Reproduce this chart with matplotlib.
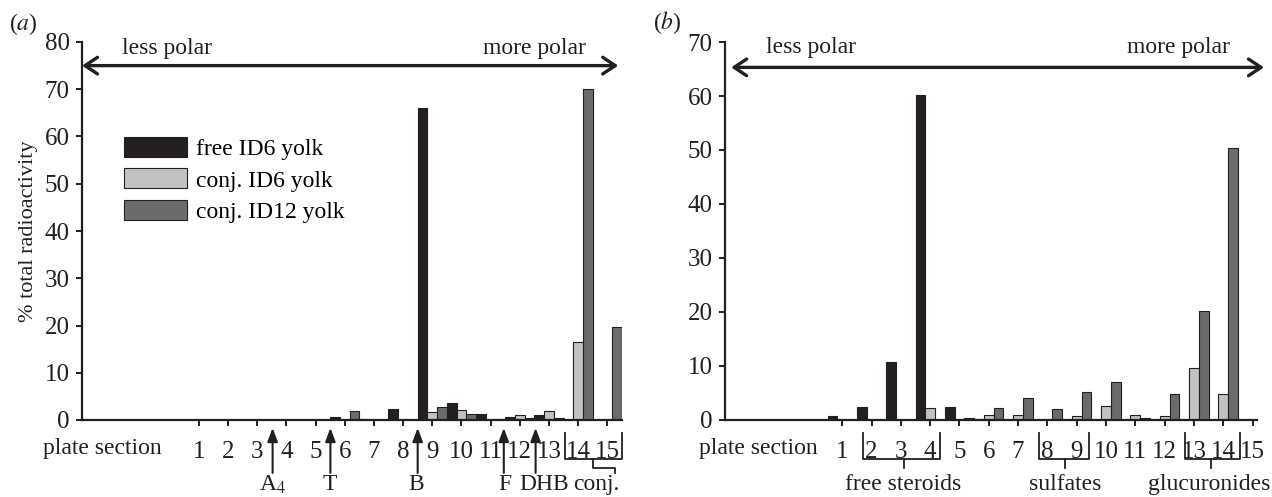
import matplotlib.pyplot as plt
import matplotlib.transforms as mtransforms
import numpy as np

plt.rcParams['font.family'] = ['Liberation Serif', 'DejaVu Serif']
plt.rcParams['mathtext.fontset'] = 'stix'

# plate sections 1..15
sections = np.arange(1, 16)

# panel (a): % total radioactivity
free_id6_a = [0, 0, 0, 0, 0, 0.7, 0.2, 2.4, 66.1, 3.7, 1.3, 0.6, 1.1, 0, 0]
conj_id6_a = [0, 0, 0, 0, 0, 0, 0, 0, 1.6, 2.1, 0, 1.0, 1.9, 16.6, 0]
conj_id12_a = [0, 0, 0, 0, 0, 1.8, 0, 0, 2.8, 1.3, 0.3, 0.5, 0.5, 70.0, 19.6]

# panel (b)
free_id6_b = [0.7, 2.4, 10.7, 60.2, 2.4, 0.2, 0, 0, 0, 0, 0, 0, 0, 0, 0]
conj_id6_b = [0, 0, 0, 2.3, 0, 0.9, 0.9, 0, 0.7, 2.6, 0.9, 0.7, 9.6, 4.8, 0]
conj_id12_b = [0, 0, 0, 0, 0.4, 2.3, 4.1, 2.0, 5.2, 7.1, 0.3, 4.8, 20.1, 50.4, 0]

series_names = ['free ID6 yolk', 'conj. ID6 yolk', 'conj. ID12 yolk']
colors = ['#231f20', '#c2c2c2', '#6b6b6d']
ink = '#231f20'

fig = plt.figure(figsize=(12.72, 4.97), dpi=100)
ax_a = fig.add_axes([82 / 1272, 77 / 497, 540 / 1272, 378 / 497])
ax_b = fig.add_axes([725 / 1272, 77 / 497, 532 / 1272, 378 / 497])

FS = 17
TFS = 18
w = 1 / 3


def draw_bars(ax, data):
    for i, (vals, c, name) in enumerate(zip(data, colors, series_names)):
        ax.bar(sections + (i - 1) * w, vals, width=w, color=c,
               edgecolor=ink, linewidth=0.8, label=name)


def style_axes(ax, ymax, xmax):
    ax.set_xlim(-3, xmax)
    ax.set_ylim(0, ymax)
    for s in ['top', 'right']:
        ax.spines[s].set_visible(False)
    for s in ['left', 'bottom']:
        ax.spines[s].set_linewidth(1.6)
        ax.spines[s].set_color(ink)
    ax.set_yticks(np.arange(0, ymax + 1, 10))
    ax.set_xticks(sections)
    ax.set_xticklabels([str(s) for s in sections])
    ax.tick_params(axis='both', direction='out', length=4, width=1.4,
                   color=ink, labelsize=TFS, labelcolor=ink)
    ax.tick_params(axis='x', pad=11)
    ax.tick_params(axis='y', pad=5)


def polar_arrow(ax, y, x0, x1, tl, tr, ty):
    ax.annotate('', xy=(x0, y), xytext=(x1, y), annotation_clip=False,
                arrowprops=dict(arrowstyle='<->,head_length=0.45,head_width=0.3',
                                lw=2.4, color=ink, mutation_scale=20,
                                shrinkA=0, shrinkB=0))
    ax.text(tl, ty, 'less polar', fontsize=FS, ha='left', va='center', color=ink)
    ax.text(tr, ty, 'more polar', fontsize=FS, ha='right', va='center', color=ink)


# ---- panel (a)
draw_bars(ax_a, [free_id6_a, conj_id6_a, conj_id12_a])
style_axes(ax_a, 80, 15.5)
ax_a.set_ylabel('% total radioactivity', fontsize=16, color=ink, labelpad=5)
polar_arrow(ax_a, 75, -3, 15.37, -1.63, 14.27, 78.7)
ax_a.legend(loc='upper left', bbox_to_anchor=(0.055, 0.78), frameon=False,
            fontsize=FS, borderpad=0, handlelength=2.67, handleheight=0.93,
            handletextpad=0.38, labelspacing=0.35)

ta = mtransforms.blended_transform_factory(ax_a.transData, ax_a.transAxes)
ax_a.text(-0.28, -0.076, 'plate section', transform=ta, fontsize=FS,
          ha='right', va='center', color=ink)

arrow_x = [3.53, 5.51, 8.5, 11.45, 12.54]
for x in arrow_x:
    ax_a.annotate('', xy=(x, -0.021), xytext=(x, -0.14), xycoords=ta,
                  textcoords=ta, annotation_clip=False,
                  arrowprops=dict(arrowstyle='-|>,head_length=0.45,head_width=0.17',
                                  lw=1.5, color=ink, mutation_scale=18,
                                  shrinkA=0, shrinkB=0))
marker_labels = [(3.53, 'A$_4$'), (5.49, 'T'), (8.46, 'B'), (11.48, 'F'),
                 (12.85, 'DHB'), (14.63, 'conj.')]
for x, lab in marker_labels:
    ax_a.text(x, -0.186, lab, transform=ta, fontsize=FS, ha='center',
              va='baseline', color=ink)
# bracket under sections 14-15
ax_a.plot([13.54, 13.54, 15.49, 15.49], [-0.034, -0.103, -0.103, -0.034],
          transform=ta, color=ink, lw=1.3, clip_on=False)
ax_a.plot([14.52, 14.52, 15.25, 15.25], [-0.103, -0.127, -0.127, -0.14],
          transform=ta, color=ink, lw=1.3, clip_on=False)

# ---- panel (b)
draw_bars(ax_b, [free_id6_b, conj_id6_b, conj_id12_b])
style_axes(ax_b, 70, 15.15)
polar_arrow(ax_b, 65.3, -2.79, 15.39, -1.6, 14.21, 68.9)

tb = mtransforms.blended_transform_factory(ax_b.transData, ax_b.transAxes)
ax_b.text(0.15, -0.076, 'plate section', transform=tb, fontsize=FS,
          ha='right', va='center', color=ink)

groups = [(1.71, 4.34, 3.09, 3.09, 'free steroids'),
          (7.71, 9.41, 8.60, 8.60, 'sulfates'),
          (12.71, 14.56, 13.59, 13.53, 'glucuronides')]
for left, right, stem, xt, lab in groups:
    ax_b.plot([left, left, right, right], [-0.034, -0.103, -0.103, -0.034],
              transform=tb, color=ink, lw=1.3, clip_on=False)
    ax_b.plot([stem, stem], [-0.103, -0.127], transform=tb, color=ink,
              lw=1.3, clip_on=False)
    ax_b.text(xt, -0.186, lab, transform=tb, fontsize=FS, ha='center',
              va='baseline', color=ink)

fig.text(9 / 1272, 1 - 24 / 497, '($\\mathit{a}$)', fontsize=FS, ha='left',
         va='center', color=ink)
fig.text(653 / 1272, 1 - 23 / 497, '($\\mathit{b}$)', fontsize=FS, ha='left',
         va='center', color=ink)

fig.savefig('out.png', dpi=100)
